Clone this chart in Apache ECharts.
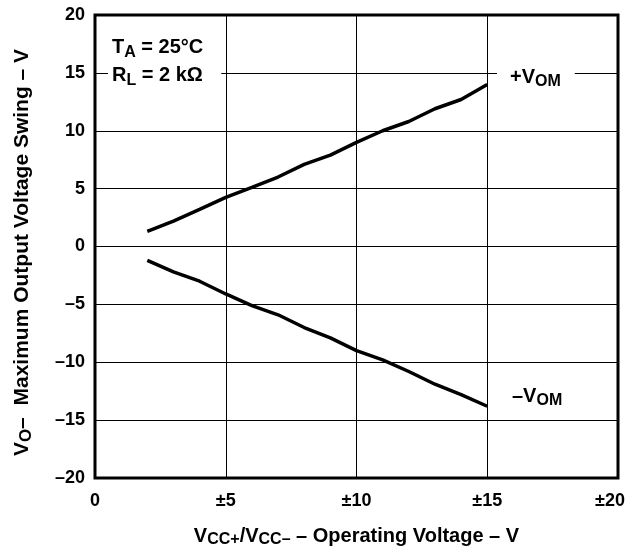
<!DOCTYPE html>
<html>
<head>
<meta charset="utf-8">
<script src="https://cdn.jsdelivr.net/npm/echarts@6/dist/echarts.min.js"></script>
<style>
  html, body { margin: 0; padding: 0; background: #fff; }
  #chart { width: 630px; height: 553px; }
</style>
</head>
<body>
<div id="chart"></div>
<script>
// Supply voltage (±V) and the measured output swing limits
const supplyVolts = [2, 3, 4, 5, 6, 7, 8, 9, 10, 11, 12, 13, 14, 15];
const posSwing = [1.3, 2.2, 3.2, 4.25, 5.1, 6.0, 7.1, 7.9, 9.0, 10.0, 10.8, 11.9, 12.7, 14.0];
const negSwing = [-1.2, -2.2, -3.0, -4.1, -5.1, -5.9, -7.0, -7.9, -9.0, -9.8, -10.8, -11.9, -12.8, -13.8];

// Tick labels
const xTickLabels = { 0: '0', 5: '±5', 10: '±10', 15: '±15', 20: '±20' };
const yTickLabels = { 20: '20', 15: '15', 10: '10', 5: '5', 0: '0', '-5': '–5', '-10': '–10', '-15': '–15', '-20': '–20' };

const FONT = '"Liberation Sans", Arial, Helvetica, sans-serif';

const chart = echarts.init(document.getElementById('chart'), null, { renderer: 'canvas' });

function subRich(main, sub, lh, slh) {
  return {
    m: { fontFamily: FONT, fontWeight: 'bold', fontSize: main, color: '#000', lineHeight: lh },
    s: { fontFamily: FONT, fontWeight: 'bold', fontSize: sub, color: '#000', verticalAlign: 'bottom', lineHeight: slh }
  };
}

chart.setOption({
  animation: false,
  backgroundColor: '#fff',
  grid: {
    left: 95, right: 12, top: 15, bottom: 74,
    show: true, borderColor: '#000', borderWidth: 3, backgroundColor: 'transparent'
  },
  xAxis: {
    type: 'value', min: 0, max: 20, interval: 5,
    axisLine: { show: false },
    axisTick: { show: false },
    splitLine: { show: true, lineStyle: { color: '#000', width: 1 } },
    axisLabel: {
      margin: 14,
      fontFamily: FONT, fontWeight: 'bold', fontSize: 18, color: '#000',
      formatter: v => v === 20 ? '{last|' + xTickLabels[v] + '}' : xTickLabels[v],
      rich: { last: { fontFamily: FONT, fontWeight: 'bold', fontSize: 18, color: '#000', padding: [0, 16, 0, 0] } }
    },
    name: '{m|V}{s|CC+}{m|/V}{s|CC–}{m| – Operating Voltage – V}',
    nameLocation: 'middle',
    nameGap: 46,
    nameTextStyle: { rich: subRich(20, 16, 24, 18) }
  },
  yAxis: {
    type: 'value', min: -20, max: 20, interval: 5,
    axisLine: { show: false },
    axisTick: { show: false },
    splitLine: { show: true, lineStyle: { color: '#000', width: 1 } },
    axisLabel: {
      margin: 10,
      fontFamily: FONT, fontWeight: 'bold', fontSize: 18, color: '#000',
      formatter: v => yTickLabels[v]
    },
    name: '{m|V}{s|O}{m|–  Maximum Output Voltage Swing – V}',
    nameLocation: 'middle',
    nameRotate: 90,
    nameGap: 60,
    nameTextStyle: { rich: subRich(21, 17, 26, 18), padding: [0, 12, 0, 0] }
  },
  series: [
    {
      name: '+VOM', type: 'line', showSymbol: false,
      data: supplyVolts.map((v, i) => [v, posSwing[i]]),
      lineStyle: { color: '#000', width: 3.5 }, z: 5
    },
    {
      name: '-VOM', type: 'line', showSymbol: false,
      data: supplyVolts.map((v, i) => [v, negSwing[i]]),
      lineStyle: { color: '#000', width: 3.5 }, z: 5
    }
  ],
  graphic: [
    {
      type: 'text', left: 108, top: 31, z: 100,
      style: {
        text: '{m|T}{s|A}{m| = 25°C}\n{m|R}{s|L}{m| = 2 kΩ}',
        backgroundColor: '#fff',
        padding: [2, 18, 2, 4],
        rich: subRich(20, 16, 28, 18)
      }
    },
    {
      type: 'text', left: 497, top: 61, z: 100,
      style: {
        text: '{m|+V}{s|OM}',
        backgroundColor: '#fff',
        padding: [3, 14, 3, 13],
        rich: subRich(20, 16, 26, 18)
      }
    },
    {
      type: 'text', left: 512, top: 386, z: 100,
      style: {
        text: '{m|–V}{s|OM}',
        rich: subRich(20, 16, 26, 18)
      }
    }
  ]
});
</script>
</body>
</html>
